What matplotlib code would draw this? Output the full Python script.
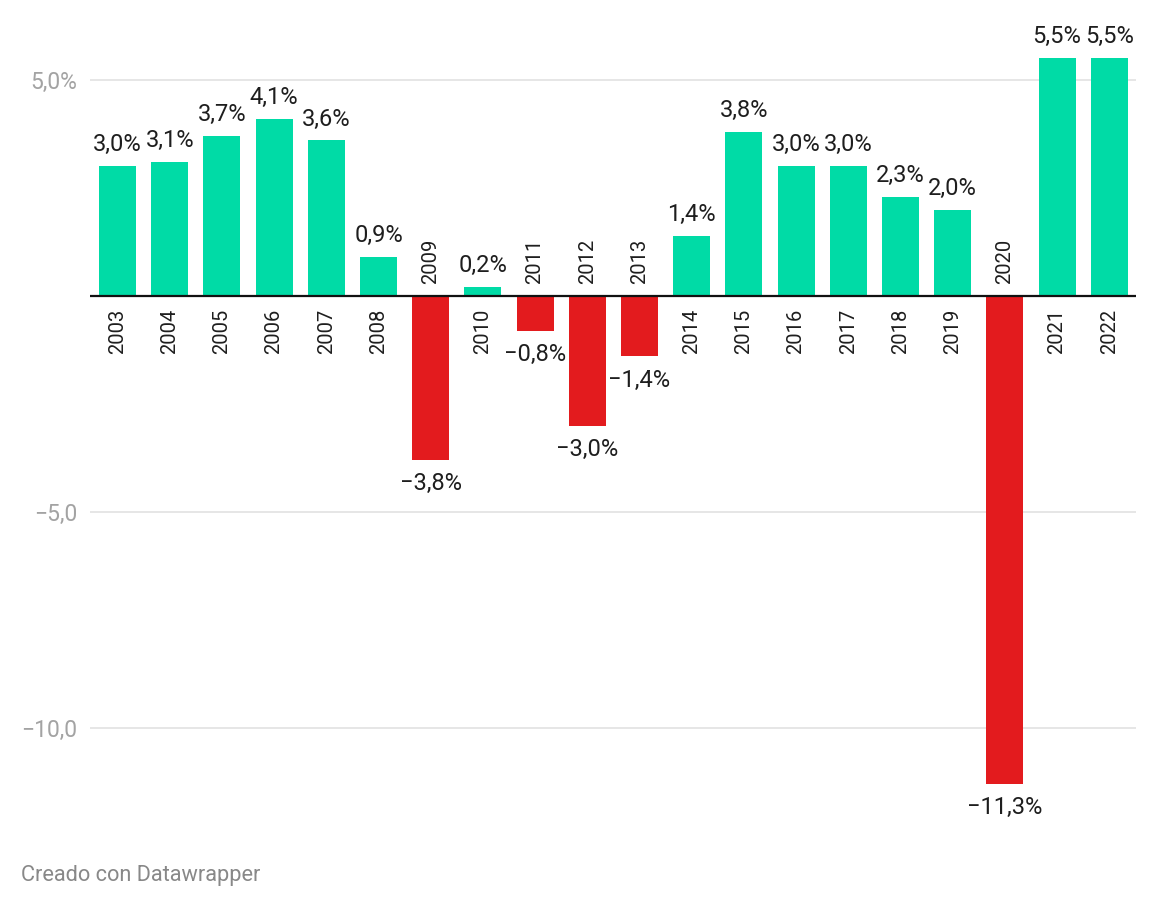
import numpy as np
import matplotlib.pyplot as plt

plt.rcParams['font.family'] = ['Roboto', 'DejaVu Sans']

years = ['2003', '2004', '2005', '2006', '2007', '2008', '2009', '2010', '2011', '2012',
         '2013', '2014', '2015', '2016', '2017', '2018', '2019', '2020', '2021', '2022']
growth = [3.0, 3.1, 3.7, 4.1, 3.6, 0.9, -3.8, 0.2, -0.8, -3.0,
          -1.4, 1.4, 3.8, 3.0, 3.0, 2.3, 2.0, -11.3, 5.5, 5.5]
yticks = [5, -5, -10]
yticklabels = ['5,0%', '\u22125,0', '\u221210,0']

verde = '#00dba6'
rojo = '#e31b1e'

W, H = 1156, 908
fig = plt.figure(figsize=(W / 100, H / 100), dpi=100)
# axes in pixel units: left 90, right 1136, top 40, bottom 830
ax = fig.add_axes([90 / W, (H - 830) / H, (1136 - 90) / W, (830 - 40) / H])

px = 43.2  # pixels per unit on y
ax.set_ylim(-(830 - 296) / px, (296 - 40) / px)
paso = 52.2
ax.set_xlim((90 - 117.5) / paso, (1136 - 117.5) / paso)

x = np.arange(len(years))
colores = [verde if v >= 0 else rojo for v in growth]
ax.bar(x, growth, width=0.71, color=colores, zorder=2)

for yt in yticks:
    ax.axhline(yt, color='#e2e2e2', linewidth=1.2, zorder=1)
ax.axhline(0, color='#111111', linewidth=1.6, zorder=3)

ax.set_yticks(yticks)
ax.set_yticklabels(yticklabels, fontsize=16.5, color='#a3a3a3')
ax.tick_params(axis='y', length=0, pad=9)
ax.set_xticks([])
for s in ax.spines.values():
    s.set_visible(False)

for xi, v, yr in zip(x, growth, years):
    txt = f'{abs(v):.1f}%'.replace('.', ',')
    if v < 0:
        txt = '\u2212' + txt
        ax.annotate(txt, (xi, v), xytext=(0, -12), textcoords='offset pixels',
                    ha='center', va='top', fontsize=17, color='#1e1e1e')
        ax.annotate(yr, (xi, 0), xytext=(0, 12), textcoords='offset pixels',
                    ha='center', va='bottom', rotation=90, fontsize=14.5, color='#1e1e1e')
    else:
        ax.annotate(txt, (xi, v), xytext=(0, 10), textcoords='offset pixels',
                    ha='center', va='bottom', fontsize=17, color='#1e1e1e')
        ax.annotate(yr, (xi, 0), xytext=(0, -13), textcoords='offset pixels',
                    ha='center', va='top', rotation=90, fontsize=14.5, color='#1e1e1e')

fig.text(21 / W, (H - 875) / H, 'Creado con Datawrapper', fontsize=15.7,
         color='#888888', ha='left', va='center')

fig.savefig('out.png', dpi=100)
